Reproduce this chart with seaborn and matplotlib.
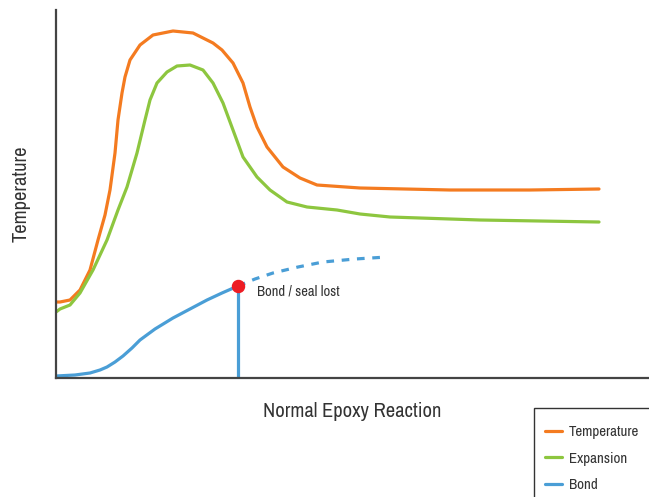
import matplotlib
matplotlib.use('Agg')
import matplotlib.pyplot as plt
from matplotlib import font_manager
import seaborn as sns

# curve values (x = reaction progress, y = level)
temp_x = [0, 4, 14, 24, 34, 42, 49, 54, 59, 62, 66, 69, 74, 84, 97, 117, 137, 157,
          166, 177, 187, 194, 201, 211, 227, 244, 261, 304, 394, 474, 543]
temp_y = [76, 76, 78, 88, 108, 138, 163, 188, 225, 258, 285, 301, 318, 333, 343, 347,
          345, 335, 328, 315, 295, 271, 251, 231, 211, 200, 193, 190, 188, 188, 189]

exp_x = [0, 4, 14, 24, 37, 51, 62, 71, 81, 89, 94, 101, 111, 121, 134, 147, 157, 167,
         177, 187, 201, 214, 231, 251, 281, 304, 334, 424, 543]
exp_y = [66, 69, 73, 85, 108, 138, 168, 191, 225, 258, 278, 295, 306, 312, 313, 308,
         295, 275, 248, 221, 201, 188, 176, 171, 168, 164, 161, 158, 156]

bond_x = [0, 19, 34, 44, 51, 59, 67, 76, 84, 99, 117, 134, 151, 166, 182]
bond_y = [2, 3, 5, 8, 11, 16, 22, 30, 38, 49, 60, 69, 78, 85, 92]

lost_x = [182, 199, 217, 242, 267, 299, 331]
lost_y = [92, 99, 105, 111, 116, 119, 121]

orange = '#F47B20'
green = '#8DC63F'
blue = '#4A9ED6'
red = '#ED1C24'
text_col = '#333333'

sns.set_style('white')

# look for a narrow face, the reference uses a condensed grotesque
names = sorted({f.name for f in font_manager.fontManager.ttflist})
narrow = [n for n in names if 'Narrow' in n or 'Condensed' in n]
fam = narrow[0] if narrow else 'Liberation Sans'
plt.rcParams['font.family'] = [fam, 'DejaVu Sans']
stretch = 'normal' if narrow else 'condensed'

fig = plt.figure(figsize=(6.49, 4.97), dpi=100)
ax = fig.add_axes([56 / 649, 1 - 378 / 497, 593 / 649, 368 / 497])

lw = 2.3
kw = dict(lw=lw, sort=False, ax=ax, solid_joinstyle='round', solid_capstyle='round')
sns.lineplot(x=temp_x, y=temp_y, color=orange, label='Temperature', **kw)
sns.lineplot(x=exp_x, y=exp_y, color=green, label='Expansion', **kw)
sns.lineplot(x=bond_x, y=bond_y, color=blue, label='Bond', **kw)
sns.lineplot(x=lost_x, y=lost_y, color=blue, lw=lw, sort=False, ax=ax,
             linestyle=(0, (2.4, 2.4)), legend=False)
ax.vlines(bond_x[-1], 0, bond_y[-1], color=blue, lw=lw)
ax.scatter([bond_x[-1]], [bond_y[-1]], s=75, color=red, zorder=5)
ax.text(bond_x[-1] + 19, bond_y[-1] - 5, 'Bond / seal lost', fontsize=10.5,
        color=text_col, va='center', fontstretch=stretch)

ax.set_xlim(0, 593)
ax.set_ylim(0, 368)
ax.set_xticks([])
ax.set_yticks([])
for side in ['top', 'right']:
    ax.spines[side].set_visible(False)
for side in ['left', 'bottom']:
    ax.spines[side].set_color('#444444')
    ax.spines[side].set_linewidth(1.6)

ax.set_xlabel('Normal Epoxy Reaction', fontsize=14.8, color=text_col, labelpad=17,
              fontstretch=stretch)
ax.set_ylabel('Temperature', fontsize=14.8, color=text_col, labelpad=18,
              fontstretch=stretch)

# legend box runs off the lower right corner of the figure
ax.legend_.remove()
handles, labels = ax.get_legend_handles_labels()
leg = fig.legend(handles[:3], labels[:3], loc='upper left',
                 bbox_to_anchor=(545 / 649, 1 - 425 / 497), borderaxespad=0,
                 prop={'size': 10.8, 'stretch': stretch},
                 handlelength=1.1, handletextpad=0.5,
                 labelspacing=0.84, borderpad=0, frameon=False)
for t in leg.get_texts():
    t.set_color(text_col)
box = plt.Rectangle((534 / 649, -0.05), 0.3, 0.05 + (497 - 408) / 497,
                    transform=fig.transFigure, fill=False, ec='#333333', lw=1.0)
fig.add_artist(box)

plt.savefig('out.png', dpi=100)
